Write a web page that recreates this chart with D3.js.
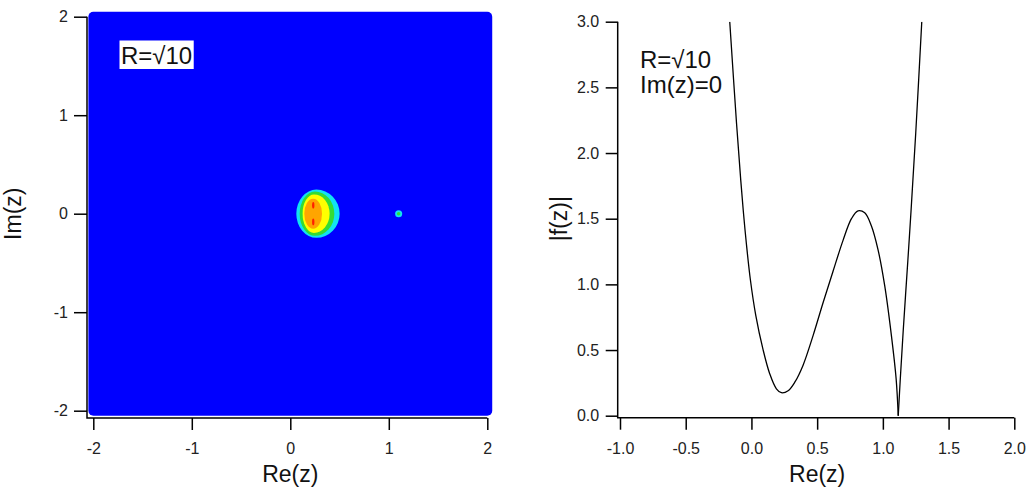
<!DOCTYPE html>
<html>
<head>
<meta charset="utf-8">
<script src="https://cdn.jsdelivr.net/npm/d3@7"></script>
<style>
  body { margin: 0; background: #fff; }
  svg { font-family: "Liberation Sans", Arial, sans-serif; }
</style>
</head>
<body>
<div id="chart"></div>
<script>
// ---- data ----
// left panel: colour bands of the map, outermost first (Re/Im units)
var bandColors = ["#12e2f2", "#34dc34", "#ffff00", "#ffa500"];
var bandLeft   = [0.061, 0.095, 0.125, 0.142];
var bandRight  = [0.501, 0.447, 0.399, 0.322];
var bandPeak   = [0.265, 0.250, 0.240, 0.232];
var bandHalfH  = [0.245, 0.225, 0.196, 0.153];
// the two red cores
var coreRe = [0.233, 0.233];
var coreIm = [0.086, -0.083];
var coreRx = [0.012, 0.012];
var coreRy = [0.034, 0.034];
// the small spot near the other zero
var spotRe = 1.10, spotIm = 0;
var spotR = [0.036, 0.018];
var spotColors = ["#12e2f2", "#34dc34"];
var mapTicks = [-2, -1, 0, 1, 2];

// right panel: |f(z)| along the real axis
var curveRe  = [-0.165, -0.114, -0.081, -0.059, -0.038, -0.008, 0.033, 0.088, 0.139, 0.190, 0.228, 0.279, 0.330, 0.393, 0.469, 0.545, 0.621, 0.697, 0.761, 0.811, 0.862, 0.913, 0.963, 1.014, 1.065, 1.101, 1.117, 1.132, 1.155, 1.190, 1.215, 1.250, 1.296];
var curveAbs = [3.00, 2.235, 1.79, 1.526, 1.305, 1.035, 0.764, 0.505, 0.320, 0.205, 0.175, 0.190, 0.255, 0.385, 0.610, 0.860, 1.100, 1.335, 1.500, 1.560, 1.545, 1.445, 1.265, 0.990, 0.610, 0.280, 0.0, 0.270, 0.650, 1.180, 1.570, 2.150, 3.00];
var reTicks  = [-1.0, -0.5, 0.0, 0.5, 1.0, 1.5, 2.0];
var absTicks = [0.0, 0.5, 1.0, 1.5, 2.0, 2.5, 3.0];

var W = 1028, H = 489;
var svg = d3.select("#chart").append("svg")
    .attr("width", W)
    .attr("height", H);

// plain hyphen instead of d3's unicode minus
function dash(s) { return s.replace("\u2212", "-"); }
var fmtInt = function(d) { return dash(d3.format("d")(d)); };
var fmt1 = function(d) { return dash(d3.format(".1f")(d)); };

// ================= left panel =================
var x0 = d3.scaleLinear().domain([-2, 2]).range([93.3, 487.3]);
var y0 = d3.scaleLinear().domain([-2, 2]).range([410.7, 16.7]);
var left = svg.append("g");

// the blue background of the map
left.append("rect")
    .attr("x", x0(-2.05))
    .attr("y", y0(2.05))
    .attr("width", x0(2.05) - x0(-2.05))
    .attr("height", y0(-2.05) - y0(2.05))
    .attr("rx", 5)
    .attr("fill", "#0000ff");

// bands: left half-ellipse + right half-ellipse
bandColors.forEach(function(c, i) {
  var cx = x0(bandPeak[i]), cy = y0(0);
  var ry = y0(0) - y0(bandHalfH[i]);
  var rl = cx - x0(bandLeft[i]);
  var rr = x0(bandRight[i]) - cx;
  var d = "M" + cx + "," + (cy - ry) +
          "A" + rl + "," + ry + " 0 0 0 " + cx + "," + (cy + ry) +
          "A" + rr + "," + ry + " 0 0 0 " + cx + "," + (cy - ry) + "Z";
  left.append("path").attr("d", d).attr("fill", c);
});

left.selectAll("ellipse.core")
    .data(coreRe)
  .enter().append("ellipse")
    .attr("class", "core")
    .attr("cx", function(d) { return x0(d); })
    .attr("cy", function(d, i) { return y0(coreIm[i]); })
    .attr("rx", function(d, i) { return x0(coreRx[i]) - x0(0); })
    .attr("ry", function(d, i) { return y0(0) - y0(coreRy[i]); })
    .attr("fill", "#ff2000");

left.selectAll("circle.spot")
    .data(spotR)
  .enter().append("circle")
    .attr("class", "spot")
    .attr("cx", x0(spotRe))
    .attr("cy", y0(spotIm))
    .attr("r", function(d) { return x0(d) - x0(0); })
    .attr("fill", function(d, i) { return spotColors[i]; });

var lbl = left.append("text")
    .attr("x", 121)
    .attr("y", 63.5)
    .attr("font-size", 24)
    .attr("fill", "#111")
    .text("R=\u221A10");
var bb = lbl.node().getBBox();
left.insert("rect", function() { return lbl.node(); })
    .attr("x", bb.x - 1.5)
    .attr("y", bb.y - 1)
    .attr("width", bb.width + 3)
    .attr("height", bb.height + 1.5)
    .attr("fill", "#fff");

// axes, set off from the map like the original
var axL = 87, axB = 418;
left.append("g")
    .attr("transform", "translate(" + axL + ",0)")
    .call(d3.axisLeft(y0).tickValues(mapTicks).tickSize(13).tickPadding(6).tickFormat(fmtInt))
    .call(function(g) { g.select(".domain").remove(); });
left.append("g")
    .attr("transform", "translate(0," + axB + ")")
    .call(d3.axisBottom(x0).tickValues(mapTicks).tickSize(12).tickPadding(13).tickFormat(fmtInt))
    .call(function(g) { g.select(".domain").remove(); });
left.append("path")
    .attr("d", "M" + axL + "," + y0(2) + "V" + axB + "H" + x0(2))
    .attr("fill", "none")
    .attr("stroke", "#000")
    .attr("stroke-width", 1.5);

left.append("text")
    .attr("x", x0(0))
    .attr("y", 482)
    .attr("text-anchor", "middle")
    .attr("font-size", 23)
    .attr("fill", "#111")
    .text("Re(z)");
left.append("text")
    .attr("transform", "translate(21," + y0(0) + ") rotate(-90)")
    .attr("text-anchor", "middle")
    .attr("font-size", 23)
    .attr("fill", "#111")
    .text("Im(z)");

// ================= right panel =================
var x1 = d3.scaleLinear().domain([-1, 2]).range([620, 1014.3]);
var y1 = d3.scaleLinear().domain([0, 3]).range([415.7, 21.7]);
var right = svg.append("g");

right.append("clipPath").attr("id", "clip1")
  .append("rect")
    .attr("x", x1(-1)).attr("y", y1(3))
    .attr("width", x1(2) - x1(-1)).attr("height", y1(0) - y1(3) + 1);

var pts = curveRe.map(function(d, i) { return [d, curveAbs[i]]; });
var zeroIdx = curveAbs.indexOf(0);
var valueline = d3.line()
    .x(function(d) { return x1(d[0]); })
    .y(function(d) { return y1(d[1]); })
    .curve(d3.curveCatmullRom.alpha(0.5));

// split at the zero so the cusp stays sharp
[pts.slice(0, zeroIdx + 1), pts.slice(zeroIdx)].forEach(function(seg) {
  right.append("path")
      .datum(seg)
      .attr("clip-path", "url(#clip1)")
      .attr("fill", "none")
      .attr("stroke", "#000")
      .attr("stroke-width", 1.3)
      .attr("d", valueline);
});

var axL1 = 617.7, axB1 = 417.7;
right.append("g")
    .attr("transform", "translate(" + axL1 + ",0)")
    .call(d3.axisLeft(y1).tickValues(absTicks).tickSize(12).tickPadding(6.5).tickFormat(fmt1))
    .call(function(g) { g.select(".domain").remove(); });
right.append("g")
    .attr("transform", "translate(0," + axB1 + ")")
    .call(d3.axisBottom(x1).tickValues(reTicks).tickSize(12).tickPadding(13).tickFormat(fmt1))
    .call(function(g) { g.select(".domain").remove(); });
right.append("path")
    .attr("d", "M" + axL1 + "," + y1(3) + "V" + axB1 + "H" + x1(2))
    .attr("fill", "none")
    .attr("stroke", "#000")
    .attr("stroke-width", 1.5);

right.append("text")
    .attr("font-size", 24)
    .attr("fill", "#111")
  .selectAll("tspan")
    .data(["R=\u221A10", "Im(z)=0"])
  .enter().append("tspan")
    .attr("x", 640)
    .attr("y", function(d, i) { return 68 + i * 25; })
    .text(function(d) { return d; });

right.append("text")
    .attr("x", x1(0.5))
    .attr("y", 482)
    .attr("text-anchor", "middle")
    .attr("font-size", 23)
    .attr("fill", "#111")
    .text("Re(z)");
right.append("text")
    .attr("transform", "translate(567," + y1(1.5) + ") rotate(-90)")
    .attr("text-anchor", "middle")
    .attr("font-size", 23)
    .attr("fill", "#111")
    .text("|f(z)|");

// tick style shared by both panels
svg.selectAll(".tick line").attr("stroke", "#000").attr("stroke-width", 1.5);
svg.selectAll(".tick text")
    .attr("font-size", 16)
    .attr("fill", "#222");
svg.selectAll("g[font-family]").attr("font-family", null).attr("font-size", null);
</script>
</body>
</html>
